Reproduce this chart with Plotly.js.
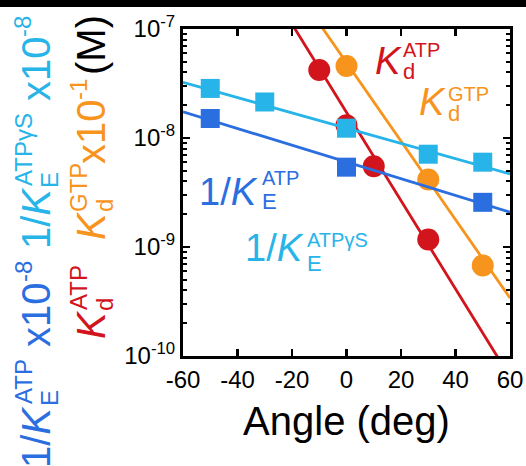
<!DOCTYPE html>
<html><head><meta charset="utf-8">
<script src="https://cdn.plot.ly/plotly-3.0.1.min.js"></script>
<style>html,body{margin:0;padding:0;background:#fff;}#chart{width:526px;height:466px;}</style>
</head><body><div id="chart"></div>
<script>
// ---- data ----
const redAngle = [-10, 0, 10, 30];
const redKd = [4.2e-8, 1.31e-8, 5.5e-9, 1.17e-9];
const orangeAngle = [0, 30, 50];
const orangeKd = [4.57e-8, 4.17e-9, 6.76e-10];
const cyanAngle = [-50, -30, 0, 30, 50];
const cyanKE = [2.85e-8, 2.14e-8, 1.23e-8, 7.1e-9, 6.0e-9];
const blueAngle = [-50, 0, 50];
const blueKE = [1.51e-8, 5.4e-9, 2.57e-9];
const fitAngle = [-60, 60];
const redFit = [4.62e-6, 6.4e-11];
const orangeFit = [7.1e-6, 3.4e-10];
const cyanFit = [3.24e-8, 4.68e-9];
const blueFit = [1.74e-8, 2.09e-9];
const xTickVals = [-60, -40, -20, 0, 20, 40, 60];
const xTickText = ['-60', '-40', '-20', '0', '20', '40', '60'];
const yTickVals = [1e-10, 1e-9, 1e-8, 1e-7];
const yTickText = ['10<sup>-10</sup>', '10<sup>-9</sup>', '10<sup>-8</sup>', '10<sup>-7</sup>'];

const RED = '#d2141c', ORANGE = '#f7941d', CYAN = '#27b4e8', BLUE = '#2b6ee0';
const FONT = 'Liberation Sans, Arial, sans-serif';

const W = 526, H = 466, ML = 183, MR = 16, MT = 29, MB = 110;
const PW = W - ML - MR, PH = H - MT - MB;
const X = px => (px - ML) / PW;
const Y = py => (H - MB - py) / PH;

function lineTrace(x, y, c) {
  return {x: x, y: y, mode: 'lines', line: {color: c, width: 2.8}, hoverinfo: 'skip', showlegend: false};
}
function markTrace(x, y, c, sym, sz) {
  return {x: x, y: y, mode: 'markers', marker: {color: c, symbol: sym, size: sz, line: {width: 0}}, showlegend: false, cliponaxis: false};
}
const data = [
  lineTrace(fitAngle, redFit, RED), markTrace(redAngle, redKd, RED, 'circle', 22),
  lineTrace(fitAngle, orangeFit, ORANGE), markTrace(orangeAngle, orangeKd, ORANGE, 'circle', 22),
  lineTrace(fitAngle, cyanFit, CYAN), markTrace(cyanAngle, cyanKE, CYAN, 'square', 19),
  lineTrace(fitAngle, blueFit, BLUE), markTrace(blueAngle, blueKE, BLUE, 'square', 19)
];

const anns = [];
function hor(text, px, py, size, color) {
  anns.push({text: text, xref: 'paper', yref: 'paper', x: X(px), y: Y(py), xanchor: 'left', yanchor: 'middle',
    showarrow: false, font: {family: FONT, size: size, color: color}, borderpad: 0});
}
function rot(text, cx, cy, size, color) {
  anns.push({text: text, xref: 'paper', yref: 'paper', x: X(cx), y: Y(cy), xanchor: 'center', yanchor: 'middle',
    textangle: -90, showarrow: false, font: {family: FONT, size: size, color: color}, borderpad: 0});
}
// in-plot labels
hor('<i>K</i>', 374, 61, 38, RED); hor('ATP', 402, 50, 20, RED); hor('d', 402, 71, 22, RED);
hor('<i>K</i>', 418, 102, 38, ORANGE); hor('GTP', 447, 94, 20, ORANGE); hor('d', 447, 113, 22, ORANGE);
hor('1/<i>K</i>', 198, 192, 38, BLUE); hor('ATP', 261, 178, 20, BLUE); hor('E', 261, 201, 22, BLUE);
hor('1/<i>K</i>', 244, 248, 38, CYAN); hor('ATPγS', 306, 240, 20, CYAN); hor('E', 306, 263, 22, CYAN);
// rotated y-axis title, left column
const M = 40, S = 24;
const LM = 36, LS = 23, LB = 49;
rot('-8', LS, 27, S, CYAN); rot('x10', LM, 69, M, CYAN);
rot('ATPγS', LS, 150, S, CYAN); rot('E', LB, 180, S, CYAN); rot('1/<i>K</i>', LM, 218, M, CYAN);
rot('-8', LS, 272, S, BLUE); rot('x10', LM, 315, M, BLUE);
rot('ATP', LS, 382, S, BLUE); rot('E', LB, 398, S, BLUE); rot('1/<i>K</i>', LM, 437, M, BLUE);
// right column
const RM = 91, RS = 78, RB = 104;
rot('(M)', RM, 45, M, '#000');
rot('-1', RS, 90, S, ORANGE); rot('x10', RM, 132, M, ORANGE);
rot('GTP', RS, 188, S, ORANGE); rot('d', RB, 206, S, ORANGE); rot('<i>K</i>', RM, 226, M, ORANGE);
rot('ATP', RS, 288, S, RED); rot('d', RB, 305, S, RED); rot('<i>K</i>', RM, 325, M, RED);

const layout = {
  width: W, height: H,
  margin: {l: ML, r: MR, t: MT, b: MB, pad: 0},
  paper_bgcolor: '#fff', plot_bgcolor: '#fff',
  font: {family: FONT, color: '#000'},
  showlegend: false,
  xaxis: {
    range: [-60, 60], tickmode: 'array', tickvals: xTickVals, ticktext: xTickText,
    ticks: 'inside', ticklen: 7, tickwidth: 2.5, tickcolor: '#000',
    showline: true, linewidth: 3, linecolor: '#000', mirror: 'ticks',
    showgrid: false, zeroline: false,
    tickfont: {family: FONT, size: 24, color: '#000'},
    title: {text: 'Angle (deg)', font: {family: FONT, size: 40, color: '#000'}, standoff: 16}
  },
  yaxis: {
    type: 'log', range: [-10, -7], tickmode: 'array', tickvals: yTickVals, ticktext: yTickText,
    ticks: 'inside', ticklen: 7, tickwidth: 2.5, tickcolor: '#000',
    minor: {tickmode: 'linear', dtick: 'D1', ticks: 'inside', ticklen: 4, tickwidth: 2, tickcolor: '#000', showgrid: false},
    showline: true, linewidth: 3, linecolor: '#000', mirror: 'ticks',
    showgrid: false, zeroline: false,
    tickfont: {family: FONT, size: 24, color: '#000'}
  },
  shapes: [{type: 'rect', xref: 'paper', yref: 'paper', x0: X(0), x1: X(W), y0: Y(7), y1: Y(0), fillcolor: '#000', line: {width: 0}, layer: 'above'}],
  annotations: anns
};
Plotly.newPlot('chart', data, layout, {displayModeBar: false, staticPlot: true});
</script>
</body></html>
